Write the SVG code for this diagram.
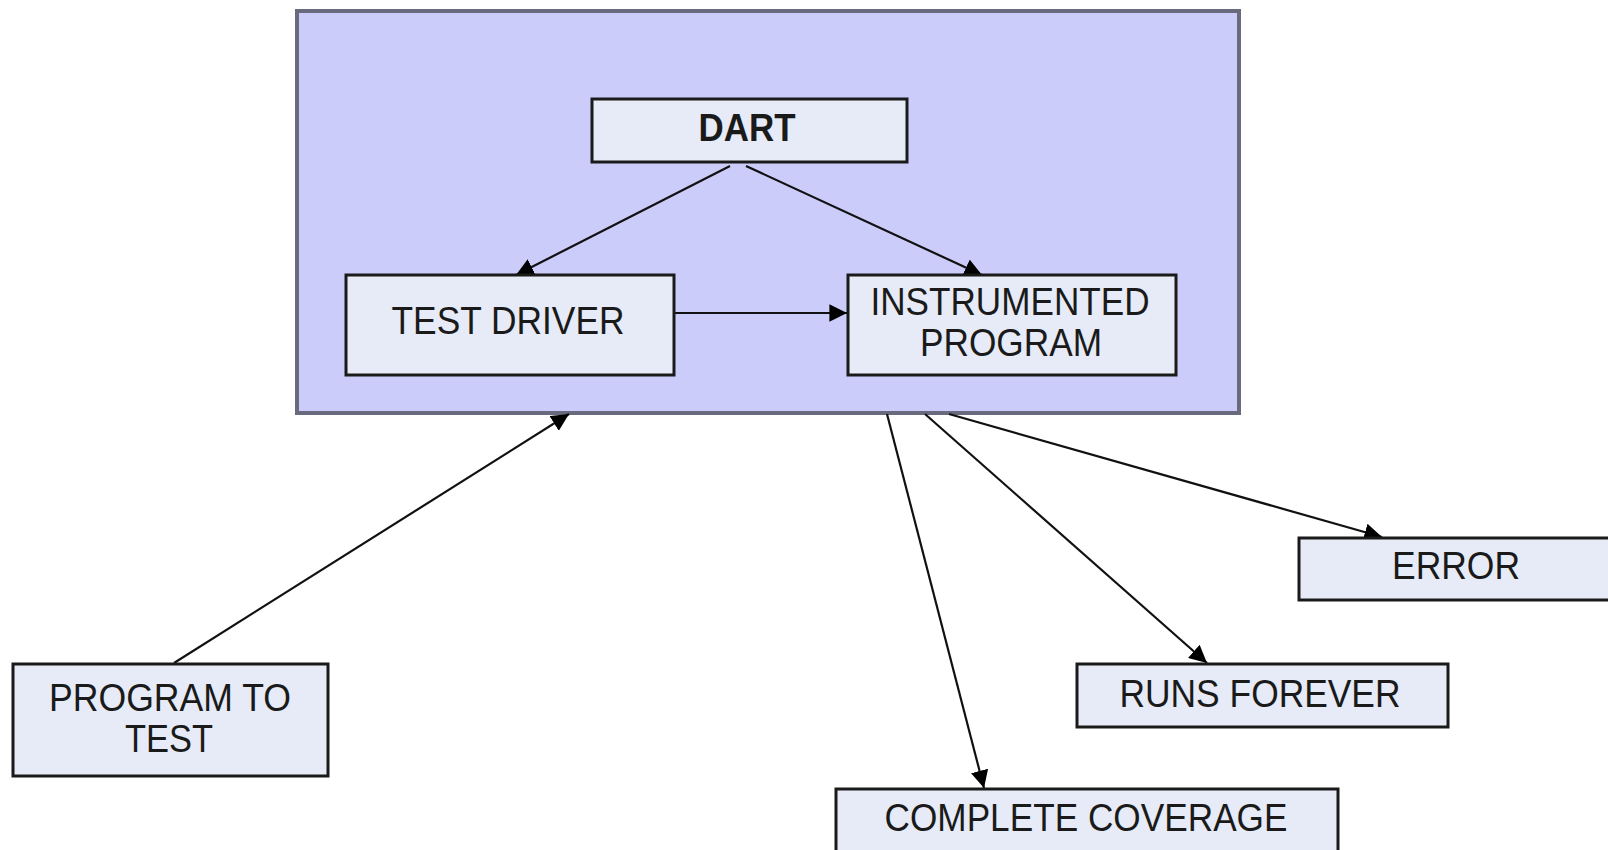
<svg xmlns="http://www.w3.org/2000/svg" width="1608" height="850" viewBox="0 0 1608 850">
<style>
.box{fill:#e6ebf7;stroke:#1a1a1a;stroke-width:3}
.lbl{font-family:"Liberation Sans",Arial,sans-serif;font-size:39px;fill:#1a1a1a;text-anchor:middle}
.b{font-weight:bold}
.con{stroke:#111;stroke-width:2.2;fill:none;marker-end:url(#ah)}
</style>
<defs>
<marker id="ah" viewBox="0 0 10 10" refX="10" refY="5" markerWidth="8" markerHeight="8" orient="auto" markerUnits="strokeWidth">
<path d="M0,0 L10,5 L0,10 Z" fill="#000"/>
</marker>
</defs>
<rect width="1608" height="850" fill="#fff"/>
<g id="dart-container">
<rect x="297" y="11" width="942" height="402" fill="#ccccfa" stroke="#6a6a7e" stroke-width="4"/>
</g>
<g id="connectors">
<line class="con" x1="730" y1="166" x2="516" y2="275"/>
<line class="con" x1="746" y1="166" x2="982" y2="275"/>
<line class="con" x1="674" y1="313" x2="847" y2="313"/>
<line class="con" x1="174" y1="663" x2="569" y2="414"/>
<line class="con" x1="887" y1="414" x2="984" y2="788"/>
<line class="con" x1="925" y1="414" x2="1207" y2="663"/>
<line class="con" x1="949" y1="414" x2="1382" y2="537"/>
</g>
<g id="dart">
<rect class="box" x="592" y="99" width="315" height="63"/>
<text class="lbl b" x="747" y="141" textLength="97" lengthAdjust="spacingAndGlyphs">DART</text>
</g>
<g id="test-driver">
<rect class="box" x="346" y="275" width="328" height="100"/>
<text class="lbl" x="508" y="334" textLength="233" lengthAdjust="spacingAndGlyphs">TEST DRIVER</text>
</g>
<g id="instrumented-program">
<rect class="box" x="848" y="275" width="328" height="100"/>
<text class="lbl" x="1010" y="315" textLength="279" lengthAdjust="spacingAndGlyphs">INSTRUMENTED</text>
<text class="lbl" x="1011" y="356" textLength="182" lengthAdjust="spacingAndGlyphs">PROGRAM</text>
</g>
<g id="program-to-test">
<rect class="box" x="13" y="664" width="315" height="112"/>
<text class="lbl" x="170" y="711" textLength="242" lengthAdjust="spacingAndGlyphs">PROGRAM TO</text>
<text class="lbl" x="169" y="752" textLength="88" lengthAdjust="spacingAndGlyphs">TEST</text>
</g>
<g id="error">
<rect class="box" x="1299" y="538" width="320" height="62"/>
<text class="lbl" x="1456" y="579" textLength="128" lengthAdjust="spacingAndGlyphs">ERROR</text>
</g>
<g id="runs-forever">
<rect class="box" x="1077" y="664" width="371" height="63"/>
<text class="lbl" x="1260" y="707" textLength="281" lengthAdjust="spacingAndGlyphs">RUNS FOREVER</text>
</g>
<g id="complete-coverage">
<rect class="box" x="836" y="789" width="502" height="70"/>
<text class="lbl" x="1086" y="831" textLength="403" lengthAdjust="spacingAndGlyphs">COMPLETE COVERAGE</text>
</g>
</svg>
